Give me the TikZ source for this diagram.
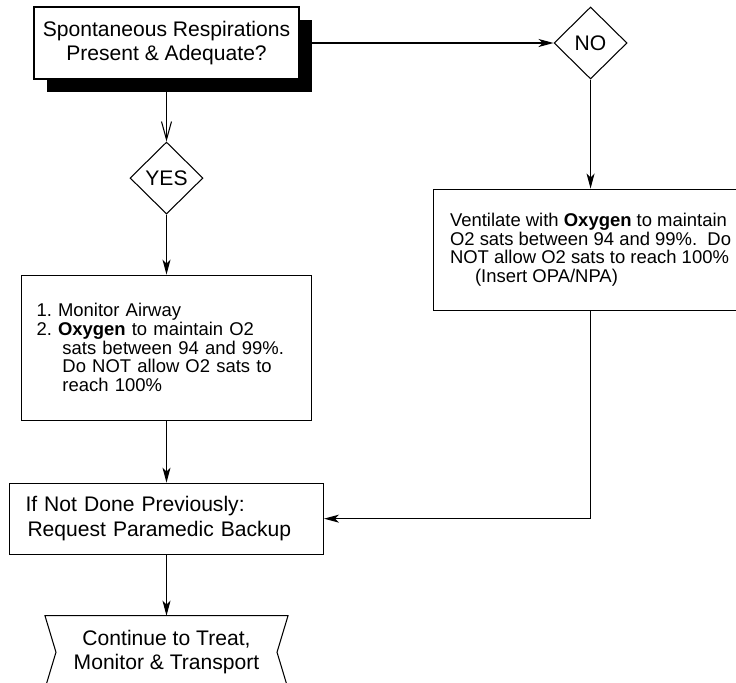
\documentclass[tikz,border=0pt]{standalone}
\usepackage{fontspec}
\setmainfont{Liberation Sans}
\usetikzlibrary{shapes.geometric, arrows.meta, positioning, shadows}

\begin{document}
\frenchspacing
\begin{tikzpicture}[
          line width=0.6pt,
          process/.style={rectangle, draw, fill=white, align=left, inner sep=0pt, font=\fontsize{12}{13.8}\selectfont},
          note/.style={process, font=\fontsize{10.5}{10.6}\selectfont},
          decision/.style={diamond, draw, fill=white, aspect=1, inner sep=0pt, minimum width=1.46cm, minimum height=1.44cm, font=\fontsize{12}{13.8}\selectfont},
          question/.style={process, align=center, minimum width=5.3cm, minimum height=1.44cm, drop shadow={shadow xshift=0.25cm, shadow yshift=-0.26cm, fill=black, opacity=1}},
          arrow/.style={-{Stealth[length=0.3cm, width=0.16cm, inset=0.08cm]}},
          barb/.style={-{Straight Barb[length=0.36cm, width=0.2cm]}}
        ]
          \useasboundingbox (0,0) rectangle (14.72,-13.66);

          \node (resp) [question] at (3.33,-0.86) {Spontaneous Respirations\\Present \& Adequate?};
          \node (yes) [decision, below=1.24cm of resp] {YES};
          \node (no) [decision, right=5.08cm of resp] {NO};

          \node (vent) [note, below=2.18cm of no, minimum width=6.28cm, minimum height=2.42cm]
            {Ventilate with \textbf{Oxygen} to maintain\\O2 sats between 94 and 99\%.\ \ Do\\NOT allow O2 sats to reach 100\%\\\hspace*{0.5cm}(Insert OPA/NPA)};
          \node (airway) [note, below=1.2cm of yes, text width=5.2cm, inner xsep=0.3cm, minimum height=2.9cm]
            {1. Monitor Airway\\2. \textbf{Oxygen} to maintain O2\\\hspace*{0.52cm}sats between 94 and 99\%.\\\hspace*{0.52cm}Do NOT allow O2 sats to\\\hspace*{0.52cm}reach 100\%};
          \node (backup) [process, below=1.24cm of airway, text width=5.64cm, inner xsep=0.32cm, minimum height=1.42cm]
            {If Not Done Previously:\\\hspace*{0.04cm}Request Paramedic Backup};
          \node (cont) [process, draw=none, fill=none, align=center, below=1.22cm of backup, minimum width=4.84cm, minimum height=1.44cm]
            {Continue to Treat,\\Monitor \& Transport};
          \draw (cont.north west) -- (cont.north east) -- ([xshift=-0.22cm]cont.east) -- (cont.south east)
            -- (cont.south west) -- ([xshift=0.22cm]cont.west) -- cycle;

          \draw [arrow] (resp) -- (no);
          \draw [barb] (resp) -- (yes);
          \draw [arrow] (no) -- (vent);
          \draw [arrow] (yes) -- (airway);
          \draw [arrow] (airway) -- (backup);
          \draw [arrow] (vent.south) |- (backup.east);
          \draw [arrow] (backup) -- (cont);
        \end{tikzpicture}
\end{document}
